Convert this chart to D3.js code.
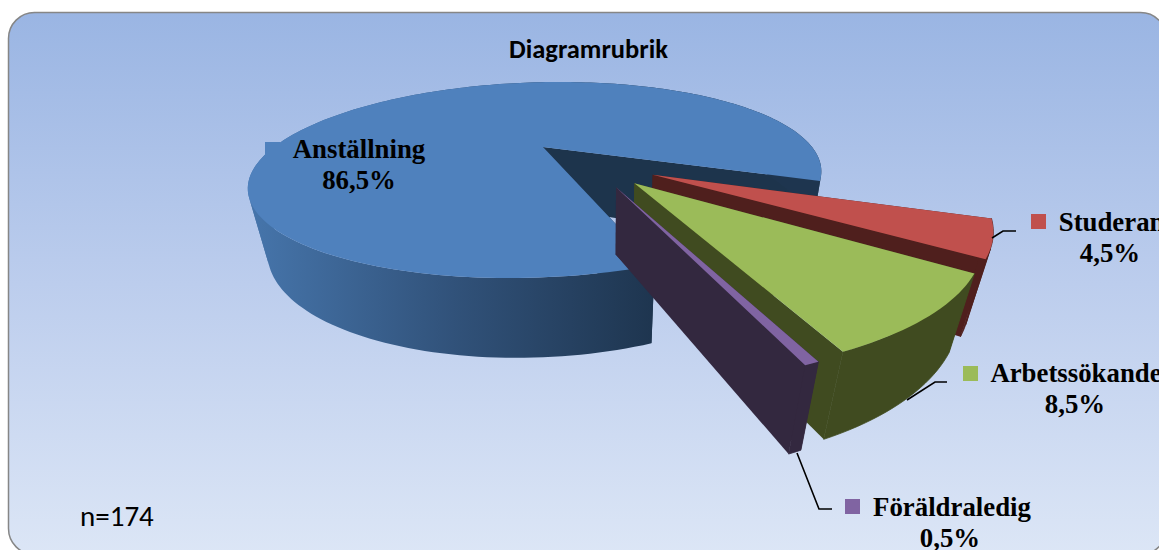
<!DOCTYPE html>
<html>
<head>
<meta charset="utf-8">
<script src="https://cdn.jsdelivr.net/npm/d3@7"></script>
<style>
  html, body { margin: 0; padding: 0; overflow: hidden; background: #fff; }
  .lbl { font-family: "Liberation Serif", serif; font-weight: bold; font-size: 26.8px; text-anchor: middle; fill: #000; }
</style>
</head>
<body>
<div id="chart"></div>
<script>
var svgWidth = 1159;
var svgHeight = 550;

// data
var categories = ["Anställning", "Studerande", "Arbetssökande", "Föräldraledig"];
var shares = [86.5, 4.5, 8.5, 0.5];
var shareLabels = ["86,5%", "4,5%", "8,5%", "0,5%"];
var topColors = ["#4f81bd", "#c0504d", "#9bbb59", "#8064a2"];
var sideColors = ["#1d344c", "#4f1f1d", "#404b20", "#33283f"];

var svg = d3.select("#chart").append("svg")
  .attr("width", svgWidth)
  .attr("height", svgHeight)
  .style("display", "block");

var defs = svg.append("defs");

var bg = defs.append("linearGradient").attr("id", "bg")
  .attr("x1", 0).attr("y1", 0).attr("x2", 0).attr("y2", 1);
bg.append("stop").attr("offset", "0%").attr("stop-color", "#9ab5e3");
bg.append("stop").attr("offset", "50%").attr("stop-color", "#bccded");
bg.append("stop").attr("offset", "100%").attr("stop-color", "#dce6f6");

var wall = defs.append("linearGradient").attr("id", "blueWall")
  .attr("gradientUnits", "userSpaceOnUse")
  .attr("x1", 250).attr("y1", 0).attr("x2", 655).attr("y2", 0);
wall.append("stop").attr("offset", "0%").attr("stop-color", "#4675ab");
wall.append("stop").attr("offset", "50%").attr("stop-color", "#31527a");
wall.append("stop").attr("offset", "100%").attr("stop-color", "#1e354f");

svg.append("rect")
  .attr("x", 8.5).attr("y", 12.5)
  .attr("width", 1158).attr("height", 542)
  .attr("rx", 26)
  .attr("fill", "url(#bg)")
  .attr("stroke", "#868686")
  .attr("stroke-width", 1.5);

svg.append("text")
  .attr("x", 588.5).attr("y", 58)
  .attr("text-anchor", "middle")
  .style("font-family", "Carlito, 'Open Sans', sans-serif")
  .style("font-weight", "bold")
  .style("font-size", "26.5px")
  .text("Diagramrubrik");

// ground plane of the pie: u to the right, v to the viewer, z downwards
var cam = { x0: 609, y0: 147, r: 269, k: 86.9, h: 63.5, a: -66, p: 0.3367, q: 0.05 };
var explode = 0.246;
var pulledRim = 1.03; // the pulled out slices look a bit bigger than the main one

function project(u, v, z) {
  var w = 1 - cam.p * v + cam.q * z;
  return [cam.x0 + (cam.r * u + cam.a) / w, cam.y0 + (cam.k * v + cam.h * z) / w];
}

var pie = d3.pie().sort(null)
  .startAngle(158.8 * Math.PI / 180)
  .endAngle((158.8 + 360) * Math.PI / 180);
var slices = pie(shares);

var line = d3.line();
var blueMid = (slices[0].startAngle + slices[0].endAngle) / 2;
var shiftU = -Math.sin(blueMid) * explode;
var shiftV = Math.cos(blueMid) * explode;

function rimPoints(d, z, i) {
  var mid = (d.startAngle + d.endAngle) / 2;
  var cu = shiftU + Math.sin(mid) * explode;
  var cv = shiftV - Math.cos(mid) * explode;
  var rad = i === 0 ? 1 : pulledRim;
  var steps = d3.range(0, 1.0001, 1 / Math.max(2, Math.ceil((d.endAngle - d.startAngle) * 40)));
  return {
    centre: project(cu, cv, z),
    rim: steps.map(function(t) {
      var a = d.startAngle + t * (d.endAngle - d.startAngle);
      return project(cu + rad * Math.sin(a), cv - rad * Math.cos(a), z);
    })
  };
}

// the wall strip folds over at the sides of the pie, so cut it there
function wallRuns(up, low) {
  var runs = [];
  var sign = 0;
  for (var k = 0; k < up.length - 1; k++) {
    var s = d3.polygonArea([up[k], up[k + 1], low[k + 1], low[k]]) > 0 ? 1 : -1;
    if (s !== sign) {
      runs.push({ from: k, to: k + 1 });
      sign = s;
    } else {
      runs[runs.length - 1].to = k + 1;
    }
  }
  return runs.map(function(r) {
    return up.slice(r.from, r.to + 1).concat(low.slice(r.from, r.to + 1).reverse());
  });
}

var pieGroup = svg.append("g");

slices.forEach(function(d, i) {
  var up = rimPoints(d, 0, i);
  var low = rimPoints(d, 1, i);
  var last = up.rim.length - 1;
  var g = pieGroup.append("g");

  // cut faces first, the top and the outer wall cover what is turned away
  g.append("path")
    .attr("d", line([up.centre, up.rim[0], low.rim[0], low.centre]) + "Z")
    .attr("fill", sideColors[i]);
  g.append("path")
    .attr("d", line([up.centre, up.rim[last], low.rim[last], low.centre]) + "Z")
    .attr("fill", sideColors[i]);

  // outer wall, thin stroke closes the seam against the cut face
  g.selectAll(".wall").data(wallRuns(up.rim, low.rim)).enter().append("path")
    .attr("class", "wall")
    .attr("d", function(run) { return line(run) + "Z"; })
    .attr("fill", i === 0 ? "url(#blueWall)" : sideColors[i])
    .attr("stroke", i === 0 ? "none" : sideColors[i])
    .attr("stroke-width", 0.8);

  // top face
  g.append("path")
    .attr("d", line([up.centre].concat(up.rim)) + "Z")
    .attr("fill", topColors[i]);
});

// leader lines
var leaders = [
  [[992, 238], [1003, 231], [1016, 231]],
  [[907, 400], [935, 382], [947, 382]],
  [[797, 453], [819, 509], [832, 509]]
];
svg.selectAll(".leader").data(leaders).enter().append("path")
  .attr("class", "leader")
  .attr("d", function(d) { return line(d); })
  .attr("fill", "none")
  .attr("stroke", "#000")
  .attr("stroke-width", 1.6);

// labels: key square, name, share
var labelPos = [
  { keyX: 265, keyY: 142, nameX: 359, nameY: 158, valX: 359, valY: 189 },
  { keyX: 1031, keyY: 214, nameX: 1125, nameY: 231, valX: 1110, valY: 262 },
  { keyX: 963, keyY: 366, nameX: 1076, nameY: 382, valX: 1075, valY: 413 },
  { keyX: 845, keyY: 499, nameX: 952, nameY: 516, valX: 950, valY: 547 }
];

labelPos.forEach(function(p, i) {
  svg.append("rect")
    .attr("x", p.keyX).attr("y", p.keyY)
    .attr("width", 15).attr("height", 15)
    .attr("fill", topColors[i]);
  svg.append("text").attr("class", "lbl").attr("x", p.nameX).attr("y", p.nameY).text(categories[i]);
  svg.append("text").attr("class", "lbl").attr("x", p.valX).attr("y", p.valY).text(shareLabels[i]);
});

svg.append("text")
  .attr("x", 80).attr("y", 526)
  .style("font-family", "Carlito, 'Open Sans', sans-serif")
  .style("font-size", "29px")
  .text("n=174");
</script>
</body>
</html>
